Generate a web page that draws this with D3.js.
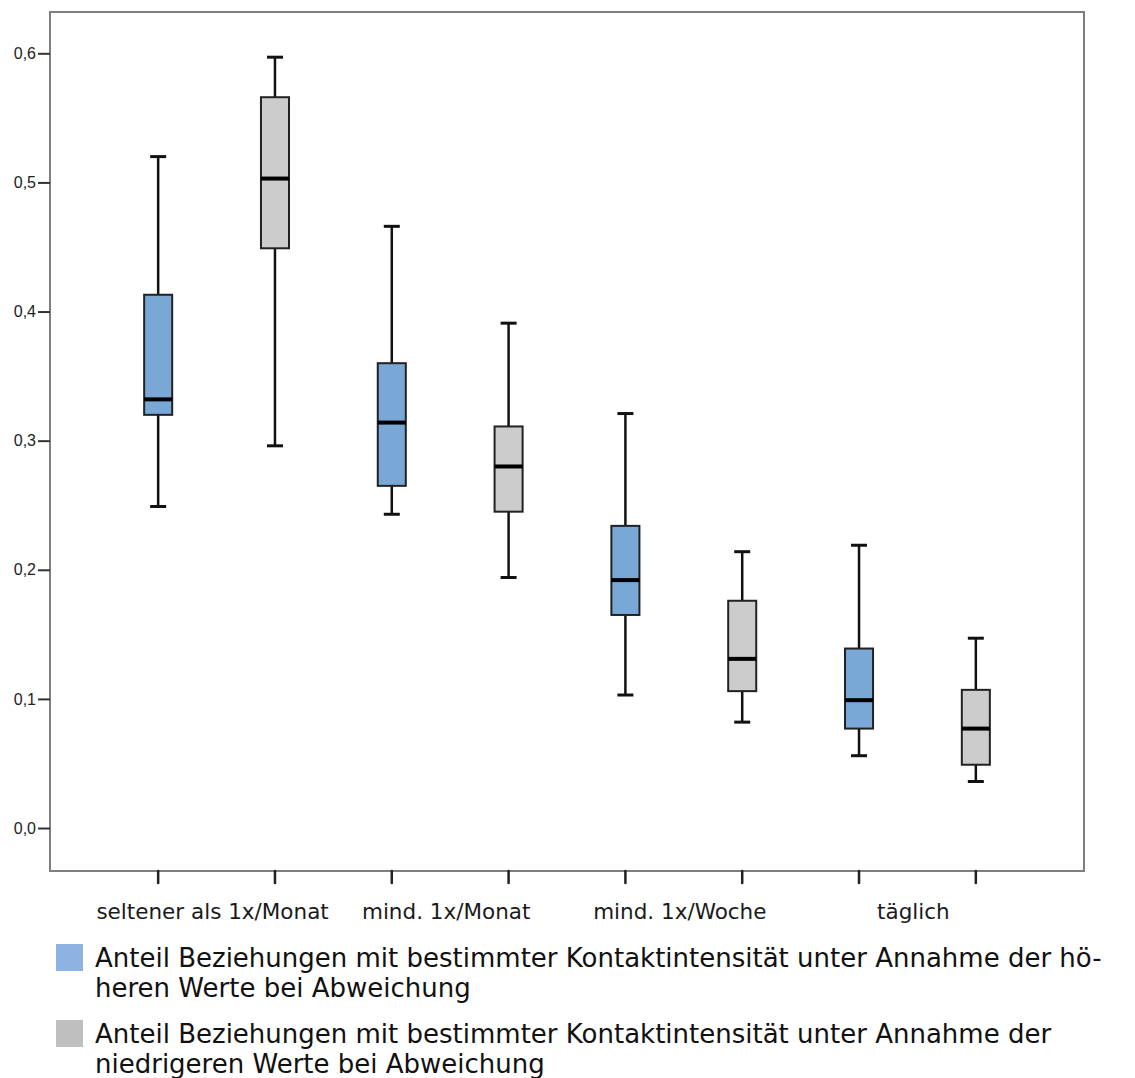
<!DOCTYPE html>
<html>
<head>
<meta charset="utf-8">
<script src="https://cdn.jsdelivr.net/npm/d3@7"></script>
<style>
  body { margin: 0; background: #fff; }
  svg { display: block; }
</style>
</head>
<body>
<svg id="chart" width="1135" height="1078"></svg>
<script>
// Kontaktintensität categories
var categories = ["seltener als 1x/Monat", "mind. 1x/Monat", "mind. 1x/Woche", "täglich"];
var series = ["hoeher", "niedriger"];

// five-number summaries per category: [min, q1, median, q3, max]
var hoeherStats = [
    [0.249, 0.320, 0.332, 0.413, 0.520],
    [0.243, 0.265, 0.314, 0.360, 0.466],
    [0.103, 0.165, 0.192, 0.234, 0.321],
    [0.056, 0.077, 0.099, 0.139, 0.219]
];
var niedrigerStats = [
    [0.296, 0.449, 0.503, 0.566, 0.597],
    [0.194, 0.245, 0.280, 0.311, 0.391],
    [0.082, 0.106, 0.131, 0.176, 0.214],
    [0.036, 0.049, 0.077, 0.107, 0.147]
];

var yTicks = [0, 0.1, 0.2, 0.3, 0.4, 0.5, 0.6];

var legendLines = [
    ["Anteil Beziehungen mit bestimmter Kontaktintensität unter Annahme der hö-", "heren Werte bei Abweichung"],
    ["Anteil Beziehungen mit bestimmter Kontaktintensität unter Annahme der", "niedrigeren Werte bei Abweichung"]
];

var fills = { hoeher: "#79a7d6", niedriger: "#cccccc" };
var swatch = { hoeher: "#8db3e2", niedriger: "#bfbfbf" };

var plotL = 50, plotR = 1084, plotT = 12, plotB = 871;

var svg = d3.select("#chart");

var y = d3.scaleLinear()
    .domain([-0.0333, 0.632])
    .range([plotB, plotT]);

var x = d3.scaleBand()
    .domain(categories)
    .range([plotL, plotR])
    .paddingOuter(0.213)
    .paddingInner(0);

var xi = d3.scaleBand()
    .domain(series)
    .range([0, x.bandwidth()]);

var boxW = xi.bandwidth() * 0.24;
var capW = 16;

// frame
svg.append("rect")
    .attr("x", plotL).attr("y", plotT)
    .attr("width", plotR - plotL).attr("height", plotB - plotT)
    .attr("fill", "none")
    .attr("stroke", "#7f7f7f")
    .attr("stroke-width", 2);

// y axis
var yAxis = d3.axisLeft(y)
    .tickValues(yTicks)
    .tickSize(12)
    .tickPadding(2)
    .tickFormat(function(d) { return d3.format(".1f")(d).replace(".", ","); });

var gy = svg.append("g")
    .attr("transform", "translate(" + plotL + ",0)")
    .call(yAxis);
gy.select(".domain").remove();
gy.selectAll(".tick line").attr("stroke", "#333").attr("stroke-width", 2);
gy.selectAll(".tick text")
    .attr("fill", "#222")
    .style("font-family", "'Liberation Sans', Arial, sans-serif")
    .style("font-size", "16px");

// build rows
var rows = [];
categories.forEach(function(c, i) {
    rows.push({ cat: c, s: "hoeher", v: hoeherStats[i] });
    rows.push({ cat: c, s: "niedriger", v: niedrigerStats[i] });
});
rows.forEach(function(r) { r.cx = x(r.cat) + xi(r.s) + xi.bandwidth() / 2; });

// x ticks under each box
svg.append("g").selectAll("line")
    .data(rows)
    .join("line")
    .attr("x1", function(d) { return d.cx; })
    .attr("x2", function(d) { return d.cx; })
    .attr("y1", plotB)
    .attr("y2", plotB + 12)
    .attr("stroke", "#222")
    .attr("stroke-width", 2.5)
    .attr("stroke-linecap", "round");

// x labels
svg.append("g").selectAll("text")
    .data(categories)
    .join("text")
    .attr("x", function(d) { return x(d) + x.bandwidth() / 2 - 4; })
    .attr("y", 919)
    .attr("text-anchor", "middle")
    .attr("fill", "#1a1a1a")
    .style("font-family", "'DejaVu Sans', Verdana, sans-serif")
    .style("font-size", "21.5px")
    .text(function(d) { return d; });

var boxes = svg.append("g").selectAll("g")
    .data(rows)
    .join("g");

// whisker stem
boxes.append("line")
    .attr("x1", function(d) { return d.cx; })
    .attr("x2", function(d) { return d.cx; })
    .attr("y1", function(d) { return y(d.v[0]); })
    .attr("y2", function(d) { return y(d.v[4]); })
    .attr("stroke", "#111")
    .attr("stroke-width", 2.5);

// caps
boxes.selectAll("line.cap")
    .data(function(d) { return [d.v[0], d.v[4]].map(function(v) { return { cx: d.cx, v: v }; }); })
    .join("line")
    .attr("class", "cap")
    .attr("x1", function(d) { return d.cx - capW / 2; })
    .attr("x2", function(d) { return d.cx + capW / 2; })
    .attr("y1", function(d) { return y(d.v); })
    .attr("y2", function(d) { return y(d.v); })
    .attr("stroke", "#111")
    .attr("stroke-width", 3);

// box
boxes.append("rect")
    .attr("x", function(d) { return d.cx - boxW / 2; })
    .attr("width", boxW)
    .attr("y", function(d) { return y(d.v[3]); })
    .attr("height", function(d) { return y(d.v[1]) - y(d.v[3]); })
    .attr("fill", function(d) { return fills[d.s]; })
    .attr("stroke", "#222")
    .attr("stroke-width", 2);

// median
boxes.append("line")
    .attr("x1", function(d) { return d.cx - boxW / 2; })
    .attr("x2", function(d) { return d.cx + boxW / 2; })
    .attr("y1", function(d) { return y(d.v[2]); })
    .attr("y2", function(d) { return y(d.v[2]); })
    .attr("stroke", "#000")
    .attr("stroke-width", 4);

// legend
var legend = svg.append("g");
series.forEach(function(s, i) {
    var y0 = 944 + i * 76;
    legend.append("rect")
        .attr("x", 56).attr("y", y0)
        .attr("width", 27).attr("height", 27)
        .attr("fill", swatch[s]);
    legend.append("text")
        .attr("x", 95)
        .attr("y", y0 + 23)
        .attr("fill", "#111")
        .style("font-family", "'DejaVu Sans', Verdana, sans-serif")
        .style("font-size", "26px")
        .selectAll("tspan")
        .data(legendLines[i])
        .join("tspan")
        .attr("x", 95)
        .attr("dy", function(d, j) { return j === 0 ? 0 : 30; })
        .text(function(d) { return d; });
});
</script>
</body>
</html>
